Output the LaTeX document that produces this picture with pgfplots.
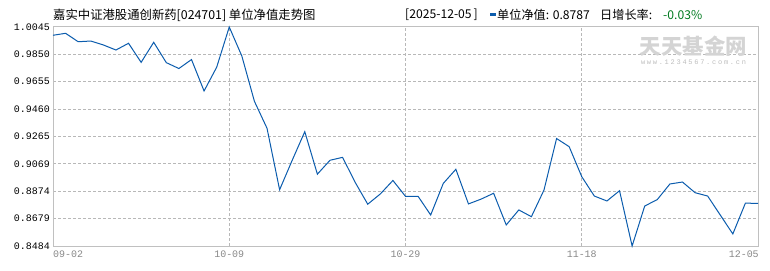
\documentclass[border=0pt]{standalone}
\usepackage{pgfplots}
\usepackage{pgfplotstable}
\pgfplotsset{compat=1.18}
\usepackage{fontspec}
\setmainfont{Liberation Sans}
\setmonofont{Liberation Mono}
\newfontfamily\cjk{Noto Sans CJK SC}
\newfontfamily\wmfont[LetterSpace=25]{Liberation Mono}
\definecolor{navblue}{HTML}{0B5CAD}
\definecolor{gridgray}{HTML}{B8B8B8}
\definecolor{framegray}{HTML}{C0C0C0}
\definecolor{upgreen}{HTML}{007A1F}
\definecolor{labgray}{HTML}{888888}
\definecolor{wmgray}{HTML}{D4D4D4}
\definecolor{wmgray2}{HTML}{BDBDBD}

\pgfplotstableread{
i v
0 0.9986
1 1.0000
2 0.9940
3 0.9945
4 0.9917
5 0.9881
6 0.9929
7 0.9793
8 0.9936
9 0.9791
10 0.9749
11 0.9813
12 0.9589
13 0.9758
14 1.0045
15 0.9838
16 0.9515
17 0.9323
18 0.8885
19 0.9095
20 0.9299
21 0.8996
22 0.9095
23 0.9116
24 0.8938
25 0.8782
26 0.8855
27 0.8951
28 0.8838
29 0.8838
30 0.8705
31 0.8930
32 0.9031
33 0.8784
34 0.8818
35 0.8860
36 0.8634
37 0.8741
38 0.8693
39 0.8883
40 0.9250
41 0.9192
42 0.8978
43 0.8840
44 0.8805
45 0.8878
46 0.8484
47 0.8769
48 0.8815
49 0.8926
50 0.8940
51 0.8864
52 0.8840
53 0.8705
54 0.8570
55 0.8790
56 0.8787
}\navdata

\begin{document}
\begin{tikzpicture}[x=1bp,y=1bp]
\path[use as bounding box] (0,0) rectangle (770,270);
\begin{axis}[
  at={(53bp,24bp)}, anchor=south west,
  scale only axis, width=705bp, height=219bp,
  xmin=0, xmax=56, ymin=0.8484, ymax=1.0045,
  clip=false,
  axis line style={framegray, line width=1bp},
  major tick length=0pt,
  xtick={14,28,42}, xticklabels={10-09,10-29,11-18},
  extra x ticks={0,56}, extra x tick labels={09-02,\llap{12-05}},
  extra x tick style={grid=none, xticklabel style={anchor=north west}},
  ytick={0.8484,0.8679,0.8874,0.9069,0.9265,0.9460,0.9655,0.9850,1.0045},
  yticklabels={0.8484,0.8679,0.8874,0.9069,0.9265,0.9460,0.9655,0.9850,1.0045},
  xmajorgrids, ymajorgrids,
  major grid style={gridgray, line width=1bp, dash pattern=on 3bp off 2bp},
  xticklabel style={font=\ttfamily\fontsize{10}{10}\selectfont, text=labgray, inner sep=0pt, yshift=-5bp},
  yticklabel style={font=\ttfamily\fontsize{10}{10}\selectfont, text=black, inner sep=0pt, anchor=east, xshift=-3bp},
]
\addplot[navblue, line width=1bp, mark=none] table[x=i, y=v] {\navdata};
\end{axis}
\node[anchor=west, inner sep=0] at (53,255) {\cjk\fontsize{12.4}{12.4}\selectfont 嘉实中证港股通创新药[024701] 单位净值走势图};
\node[anchor=west, inner sep=0] at (405,255) {\cjk\fontsize{12.2}{12.2}\selectfont [2025-12-05\,]};
\fill[navblue] (490,253.5) rectangle (496,256.5);
\node[anchor=west, inner sep=0] at (497,255) {\cjk\fontsize{12.2}{12.2}\selectfont 单位净值: 0.8787};
\node[anchor=west, inner sep=0] at (600,255) {\cjk\fontsize{12.2}{12.2}\selectfont 日增长率:};
\node[anchor=west, inner sep=0, text=upgreen] at (663,255) {\cjk\fontsize{12.2}{12.2}\selectfont -0.03\%};
\node[inner sep=0, text=wmgray] at (693.5,223.5) {\cjk\bfseries\fontsize{21.5}{21.5}\selectfont 天天基金网};
\node[inner sep=0, text=wmgray2] at (693.5,208) {\wmfont\fontsize{7}{7}\selectfont www.1234567.com.cn};
\end{tikzpicture}
\end{document}
